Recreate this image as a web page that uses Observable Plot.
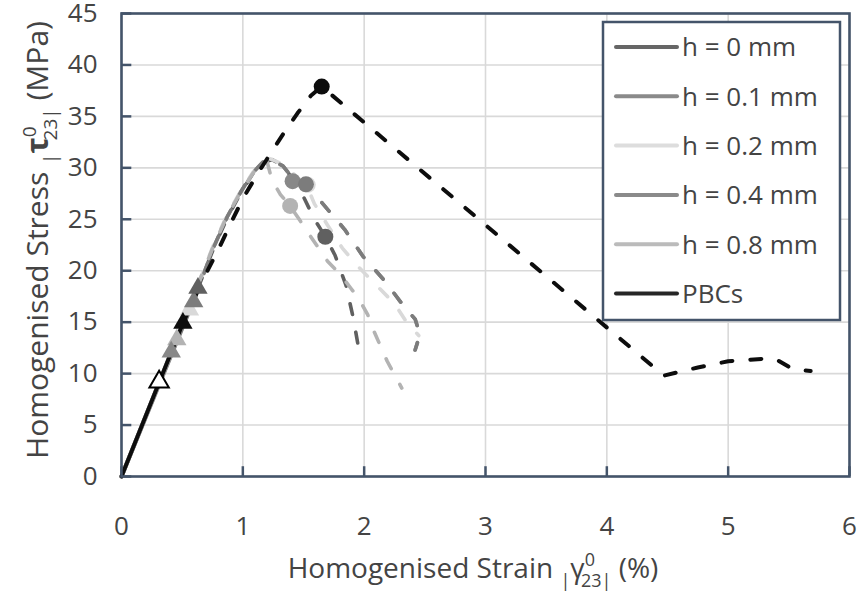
<!DOCTYPE html>
<html><head><meta charset="utf-8">
<script src="https://cdn.jsdelivr.net/npm/d3@7"></script>
<script src="https://cdn.jsdelivr.net/npm/@observablehq/plot@0.6"></script>
<style>
body{margin:0;background:#fff}
#chart{width:861px;height:606px}
</style>
</head><body><div id="chart"></div>
<script>
// ---------- data ----------
const strainTicks = [0, 1, 2, 3, 4, 5, 6];
const stressTicks = [0, 5, 10, 15, 20, 25, 30, 35, 40, 45];

const seriesNames  = ["h = 0 mm", "h = 0.1 mm", "h = 0.2 mm", "h = 0.4 mm", "h = 0.8 mm", "PBCs"];
const seriesColors = ["#606060", "#888888", "#d9d9d9", "#7c7c7c", "#b3b3b3", "#0d0d0d"];
const legendColors = ["#666666", "#8a8a8a", "#dddddd", "#8a8a8a", "#bbbbbb", "#262626"];

// solid (pre-onset) and dashed (post-onset) branches, [strain %, stress MPa]
const h0Solid  = [[0, 0], [0.31, 9.1], [0.63, 18.3]];
const h0Dash   = [[0.63, 18.3], [0.76, 22.2], [0.87, 25.1], [0.98, 27.5], [1.08, 29.4], [1.17, 30.5], [1.24, 30.8], [1.32, 30.3], [1.45, 28.4], [1.59, 25.0], [1.68, 23.3], [1.76, 21.5], [1.85, 18.6], [1.91, 15.4], [1.96, 12.1]];
const h01Solid = [[0, 0], [0.41, 12.1], [0.595, 17.1]];
const h01Dash  = [[0.595, 17.1], [0.76, 22.3], [0.87, 25.2], [0.98, 27.6], [1.08, 29.5], [1.17, 30.6], [1.24, 30.7], [1.33, 30.2], [1.41, 29.0], [1.52, 28.4], [1.66, 26.5], [1.84, 24.0], [1.99, 21.4], [2.17, 19.0], [2.33, 16.5], [2.42, 15.3], [2.46, 13.8], [2.42, 12.3]];
const h02Solid = [[0, 0], [0.56, 16.2]];
const h02Dash  = [[0.56, 16.2], [0.645, 19.1], [0.755, 22.4], [0.865, 25.3], [0.975, 27.6], [1.085, 29.6], [1.17, 30.7], [1.22, 30.9], [1.30, 30.5], [1.42, 29.4], [1.53, 28.2], [1.59, 26.5], [1.70, 24.4], [1.82, 22.2], [1.95, 20.4], [2.10, 18.6], [2.25, 16.8], [2.35, 15.0], [2.45, 13.7]];
const h04Solid = [[0, 0], [0.595, 17.1]];
const h04Dash  = [[0.595, 17.1], [0.76, 22.3], [0.87, 25.2], [0.98, 27.6], [1.08, 29.5], [1.17, 30.6], [1.24, 30.7], [1.33, 30.2], [1.41, 29.0], [1.52, 28.4], [1.66, 26.5], [1.84, 24.0], [1.99, 21.4], [2.17, 19.0], [2.33, 16.5], [2.42, 15.3], [2.46, 13.8], [2.42, 12.3]];
const h08Solid = [[0, 0], [0.456, 13.3]];
const h08Dash  = [[0.456, 13.3], [0.645, 19.1], [0.755, 22.3], [0.865, 25.2], [0.975, 27.5], [1.085, 29.5], [1.15, 30.4], [1.20, 30.6], [1.24, 28.8], [1.31, 27.4], [1.39, 26.3], [1.47, 24.9], [1.56, 23.3], [1.70, 20.9], [1.80, 19.7], [1.89, 18.3], [1.96, 17.2], [2.03, 15.7], [2.07, 14.4], [2.13, 12.8], [2.19, 11.2], [2.25, 9.9], [2.31, 8.6]];
const pbcSolid = [[0, 0], [0.506, 14.9]];
const pbcDash  = [[0.506, 14.9], [0.67, 19.1], [0.80, 22.1], [0.90, 24.6], [1.00, 27.0], [1.12, 29.4], [1.25, 31.8], [1.35, 33.6], [1.45, 35.3], [1.56, 37.0], [1.65, 37.9], [4.47, 9.8], [4.75, 10.6], [5.00, 11.2], [5.30, 11.45], [5.40, 11.35], [5.53, 10.45], [5.68, 10.25]];

// damage onset (triangles)
const onsetStrain = [0.31, 0.56, 0.456, 0.595, 0.41, 0.63, 0.506];
const onsetStress = [9.2, 16.2, 13.3, 17.0, 12.1, 18.3, 14.9];
const onsetSeries = ["open", "h = 0.2 mm", "h = 0.8 mm", "h = 0.4 mm", "h = 0.1 mm", "h = 0 mm", "PBCs"];

// failure points (circles)
const failStrain = [1.68, 1.41, 1.535, 1.52, 1.39, 1.65];
const failStress = [23.3, 28.7, 28.35, 28.4, 26.3, 37.9];
const failSeries = ["h = 0 mm", "h = 0.1 mm", "h = 0.2 mm", "h = 0.4 mm", "h = 0.8 mm", "PBCs"];

// ---------- build ----------
const colorOf = name => seriesColors[seriesNames.indexOf(name)];
const solids = [h0Solid, h01Solid, h02Solid, h04Solid, h08Solid, pbcSolid];
const dashes = [h0Dash, h01Dash, h02Dash, h04Dash, h08Dash, pbcDash];

const onset = onsetStrain.map((x, i) => ({x, y: onsetStress[i], s: onsetSeries[i]}));
const fail = failStrain.map((x, i) => ({x, y: failStress[i], s: failSeries[i]}));

const FONT = "'Open Sans', 'Noto Sans', sans-serif";
const AXIS = "#44546a";
const TEXT = "#444444";

const lineMarks = [];
seriesNames.forEach((name, i) => {
  const isPbc = name === "PBCs";
  lineMarks.push(Plot.line(solids[i], {stroke: seriesColors[i], strokeWidth: 4, strokeLinecap: "round"}));
  lineMarks.push(Plot.line(dashes[i], {stroke: seriesColors[i], strokeWidth: isPbc ? 4 : 3.6, strokeDasharray: "11,18", strokeLinecap: "round", strokeLinejoin: "round"}));
});

const chart = Plot.plot({
  width: 861, height: 606,
  marginLeft: 121, marginRight: 12, marginTop: 13, marginBottom: 130,
  x: {domain: [0, 6]},
  y: {domain: [0, 45]},
  color: {type: "identity"},
  style: {fontFamily: FONT, fontSize: "26px", color: TEXT, background: "white"},
  marks: [
    Plot.gridX(strainTicks, {stroke: "#d9d9d9", strokeOpacity: 1, strokeWidth: 1.6}),
    Plot.gridY(stressTicks, {stroke: "#d9d9d9", strokeOpacity: 1, strokeWidth: 1.6}),
    Plot.ruleX(strainTicks, {y1: 0, y2: 0.95, stroke: AXIS, strokeWidth: 2.5}),
    Plot.ruleY(stressTicks, {x1: 0, x2: 0.085, stroke: AXIS, strokeWidth: 2.5}),
    Plot.axisX(strainTicks, {tickSize: 0, tickPadding: 40, label: null, fill: TEXT, fontSize: 26, tickFormat: d => String(d)}),
    Plot.axisY(stressTicks, {tickSize: 0, tickPadding: 24, label: null, fill: TEXT, fontSize: 26, tickFormat: d => String(d)}),
    ...lineMarks,
    Plot.dot(onset, {x: "x", y: "y", symbol: "triangle", r: 7.2,
      fill: d => d.s === "open" ? "white" : colorOf(d.s),
      stroke: d => d.s === "open" ? "black" : "none", strokeWidth: 2}),
    Plot.dot(fail, {x: "x", y: "y", r: 8, fill: d => colorOf(d.s), stroke: "none"}),
    Plot.frame({stroke: AXIS, strokeWidth: 2.6})
  ]
});
document.getElementById("chart").appendChild(chart);

const svg = d3.select(chart);

// ---------- legend ----------
const lg = svg.append("g").attr("font-family", FONT).attr("font-size", 26).attr("fill", TEXT);
lg.append("rect").attr("x", 603).attr("y", 22).attr("width", 237).attr("height", 298)
  .attr("fill", "white").attr("stroke", AXIS).attr("stroke-width", 2.5);
seriesNames.forEach((name, i) => {
  const y = 47 + i * 49.3;
  lg.append("line").attr("x1", 616).attr("x2", 677).attr("y1", y).attr("y2", y)
    .attr("stroke", legendColors[i]).attr("stroke-width", 4).attr("stroke-linecap", "round");
  lg.append("text").attr("x", 682).attr("y", y).attr("dy", "0.36em").attr("text-anchor", "start").text(name);
});

// ---------- axis titles ----------
function title(g, symbol, unit, bold, fs) {
  const sub = Math.round(fs * 0.64);
  const t = g.append("text").attr("text-anchor", "middle").attr("font-family", FONT)
    .attr("font-size", fs).attr("fill", TEXT);
  t.append("tspan").text("Homogenised " + (symbol === "γ" ? "Strain" : "Stress") + " ");
  t.append("tspan").attr("font-size", sub).attr("dy", 9).text("|");
  t.append("tspan").attr("font-size", fs).attr("dy", -9).attr("font-weight", bold ? 700 : 400).text(symbol);
  t.append("tspan").attr("font-size", sub).attr("dy", -12).text("0");
  t.append("tspan").attr("font-size", sub).attr("dx", -14).attr("dy", 21).text("23");
  t.append("tspan").attr("font-size", sub).text("|");
  t.append("tspan").attr("font-size", fs).attr("dy", -9).text(" " + unit);
  return t;
}
const gx = svg.append("g").attr("transform", "translate(473,578)");
title(gx, "γ", "(%)", false, 28);
const gy = svg.append("g").attr("transform", "translate(48,240) rotate(-90)");
title(gy, "τ", "(MPa)", true, 30);
</script></body></html>
